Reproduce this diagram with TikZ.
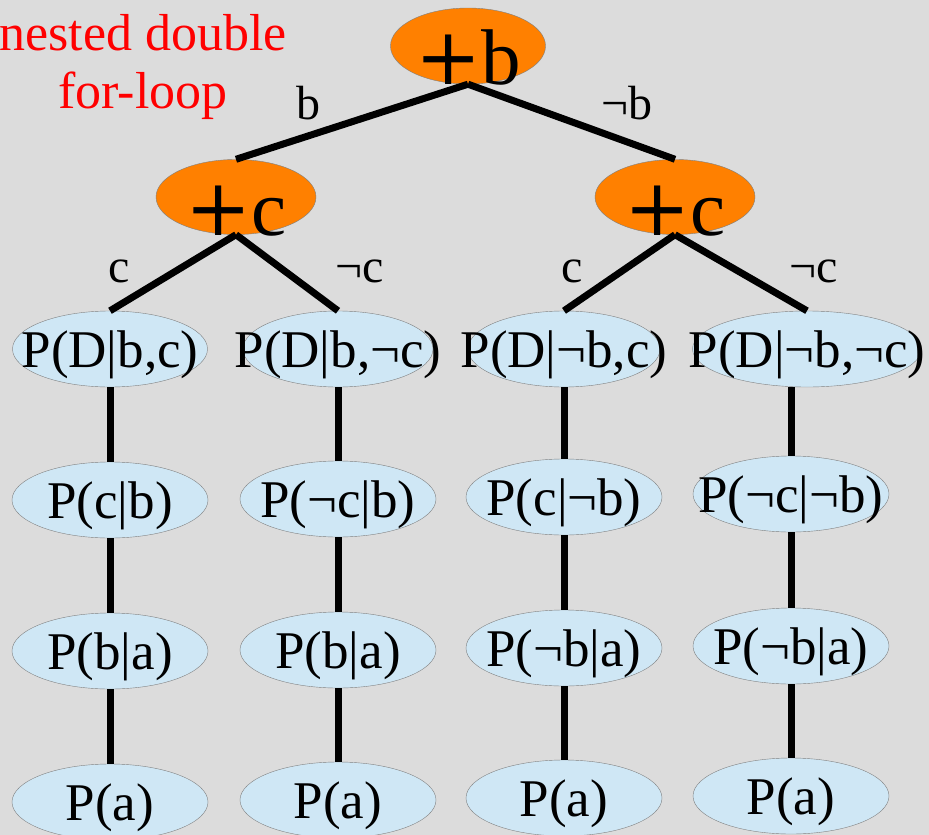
\documentclass[tikz,border=0pt]{standalone}
\usepackage{fontspec}
\setmainfont{Liberation Serif}
\newfontfamily\plusfont{DejaVu Serif}
\usetikzlibrary{shapes.geometric}
\definecolor{bggray}{RGB}{220,220,220}
\definecolor{sumorange}{RGB}{255,128,0}
\definecolor{factorblue}{RGB}{207,231,245}
\definecolor{rimgray}{RGB}{128,128,128}

\begin{document}
\begin{tikzpicture}[x=1pt, y=-1pt,
    sum/.style={ellipse, draw=rimgray, fill=sumorange, inner sep=0pt, minimum width=160pt, minimum height=75pt},
    factor/.style={ellipse, draw=rimgray, fill=factorblue, inner sep=0pt, minimum width=196pt, minimum height=76pt},
    sumtext/.style={font=\fontsize{79}{79}\selectfont, text height=76pt, text depth=0pt, inner sep=0pt},
    factext/.style={font=\fontsize{53}{53}\selectfont, text height=42pt, text depth=6pt, inner sep=0pt},
    branch/.style={font=\fontsize{48}{48}\selectfont, inner sep=0pt},
    note/.style={text=red, align=center, font=\fontsize{52}{58}\selectfont, inner sep=0pt},
    link/.style={every edge/.style={draw, line width=7pt}}]
        \clip (0,0) rectangle (929,835);
        \fill[bggray] (0,0) rectangle (929,835);

        \node[note] (loop) at (143,67) {nested double\\for-loop};

        \node[sum, minimum width=155pt, minimum height=76pt, label={[sumtext]center:{{\plusfont +}b}}] (pb) at (468,46) {};
        \node[sum, label={[sumtext]center:{{\plusfont +}c}}] (pcl) at (236,197) {};
        \node[sum, label={[sumtext]center:{{\plusfont +}c}}] (pcr) at (675,197) {};

        \node[factor, minimum width=195pt, label={[factext]center:{P(D|b,c)}}] (d1) at (110,349) {};
        \node[factor, minimum width=190pt, label={[factext]center:{P(D|b,¬c)}}] (d2) at (338,349) {};
        \node[factor, minimum width=192pt, label={[factext]center:{P(D|¬b,c)}}] (d3) at (564,349) {};
        \node[factor, minimum width=229pt, label={[factext]center:{P(D|¬b,¬c)}}] (d4) at (807,349) {};

        \node[factor, label={[factext]center:{P(c|b)}}] (c1) at (110,500) {};
        \node[factor, label={[factext]center:{P(¬c|b)}}] (c2) at (338,499) {};
        \node[factor, label={[factext]center:{P(c|¬b)}}] (c3) at (564,497) {};
        \node[factor, label={[factext]center:{P(¬c|¬b)}}] (c4) at (791,494) {};

        \node[factor, label={[factext]center:{P(b|a)}}] (b1) at (110,651) {};
        \node[factor, label={[factext]center:{P(b|a)}}] (b2) at (338,650) {};
        \node[factor, label={[factext]center:{P(¬b|a)}}] (b3) at (564,648) {};
        \node[factor, label={[factext]center:{P(¬b|a)}}] (b4) at (791,646) {};

        \node[factor, label={[factext]center:{P(a)}}] (a1) at (110,802) {};
        \node[factor, label={[factext]center:{P(a)}}] (a2) at (338,800) {};
        \node[factor, label={[factext]center:{P(a)}}] (a3) at (564,798) {};
        \node[factor, label={[factext]center:{P(a)}}] (a4) at (791,796) {};

        \node[branch] (lb) at (308,103) {b};
        \node[branch] (lnb) at (627,103) {¬b};
        \node[branch] (lcl) at (119,271) {c};
        \node[branch] (lncl) at (360,271) {¬c};
        \node[branch] (lcr) at (572,271) {c};
        \node[branch] (lncr) at (814,271) {¬c};

        \path[link]
        (pb.south) edge (pcl.north)
        (pb.south) edge (pcr.north)
        (pcl.south) edge (d1.north)
        (pcl.south) edge (d2.north)
        (pcr.south) edge (d3.north)
        (pcr.south) edge (d4.north)
        (d1.south) edge (c1.north)
        (c1.south) edge (b1.north)
        (b1.south) edge (a1.north)
        (d2.south) edge (c2.north)
        (c2.south) edge (b2.north)
        (b2.south) edge (a2.north)
        (d3.south) edge (c3.north)
        (c3.south) edge (b3.north)
        (b3.south) edge (a3.north)
        (c4 |- d4.south) edge (c4.north)
        (c4.south) edge (b4.north)
        (b4.south) edge (a4.north);
    \end{tikzpicture}
\end{document}
